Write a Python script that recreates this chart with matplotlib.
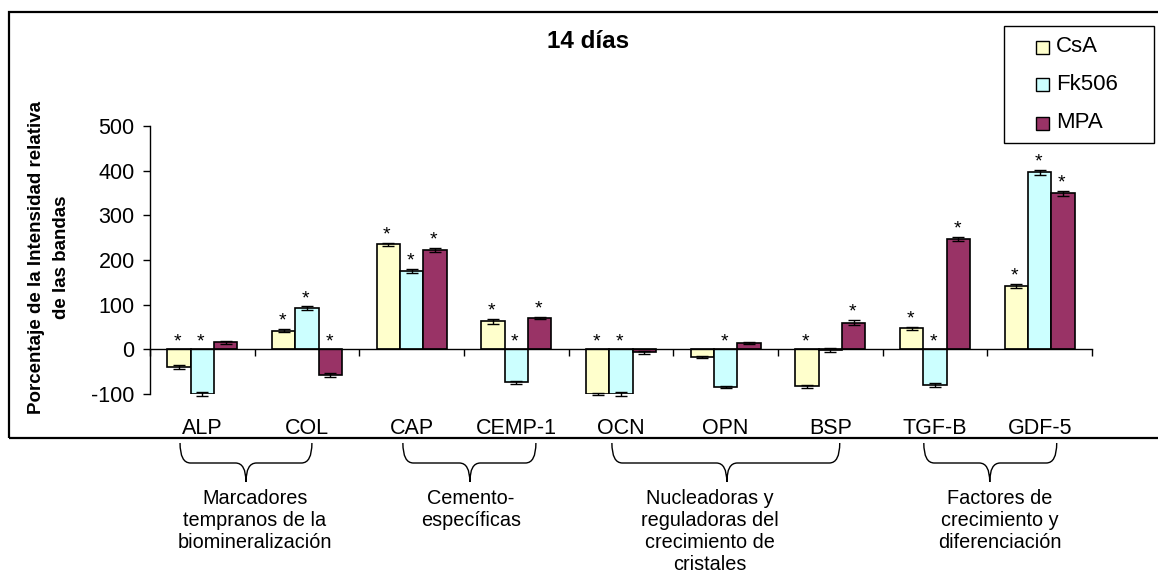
import numpy as np
import matplotlib
matplotlib.use("Agg")
import matplotlib.pyplot as plt
from matplotlib.patches import Rectangle, PathPatch
from matplotlib.path import Path
from matplotlib.transforms import blended_transform_factory

plt.rcParams['font.family'] = ['Liberation Sans', 'DejaVu Sans']

## genes on the x axis and the three treatments
genes = ['ALP', 'COL', 'CAP', 'CEMP-1', 'OCN', 'OPN', 'BSP', 'TGF-B', 'GDF-5']
series = ['CsA', 'Fk506', 'MPA']

## % relative band intensity (14 days)
csa = [-39, 42, 235, 63, -100, -17, -83, 47, 142]
fk506 = [-100, 92, 175, -74, -100, -84, -2, -80, 396]
mpa = [16, -58, 222, 70, -7, 14, 60, 247, 349]

## error bars
csa_err = [4, 4, 3, 6, 2, 2, 4, 3, 5]
fk506_err = [4, 4, 5, 4, 4, 3, 4, 5, 5]
mpa_err = [3, 5, 5, 3, 3, 2, 6, 5, 5]

## significance marks (1 = asterisk)
csa_sig = [1, 1, 1, 1, 1, 0, 1, 1, 1]
fk506_sig = [1, 1, 1, 1, 1, 1, 0, 1, 1]
mpa_sig = [0, 1, 1, 1, 0, 0, 1, 1, 1]

## brace groups under the genes
group_labels = ['Marcadores\ntempranos de la\nbiomineralización',
                'Cemento-\nespecíficas',
                'Nucleadoras y\nreguladoras del\ncrecimiento de\ncristales',
                'Factores de\ncrecimiento y\ndiferenciación']
brace_spans = [(-0.213, 0.417, 1.047), (1.916, 2.556, 3.187),
               (3.913, 5.011, 6.090), (6.893, 7.523, 8.163)]
label_x = [0.503, 2.566, 4.849, 7.618]

colors = ['#FFFFCC', '#CCFFFF', '#993366']
W, H = 1158, 572

fig = plt.figure(figsize=(W / 100, H / 100), dpi=100)
ax = fig.add_axes([150 / W, 178 / H, 942 / W, 268 / H])
ax.set_xlim(-0.5, 8.5)
ax.set_ylim(-100, 500)

x = np.arange(len(genes))
bw = 0.2235
data = [(csa, csa_err, csa_sig), (fk506, fk506_err, fk506_sig), (mpa, mpa_err, mpa_sig)]
for k, (vals, errs, sig) in enumerate(data):
    xs = x + (k - 1) * bw
    ax.bar(xs, vals, bw, color=colors[k], edgecolor='black', linewidth=1.2, zorder=2)
    ax.errorbar(xs, vals, yerr=errs, fmt='none', ecolor='black', elinewidth=1.0,
                capsize=4, capthick=1.0, zorder=3, clip_on=False)
    for xi, v, e, s in zip(xs, vals, errs, sig):
        if not s:
            continue
        y0 = v + e if v > 0 else 0
        ax.annotate('*', (xi, y0), xytext=(-1, -0.5), textcoords='offset points',
                    ha='center', va='bottom', fontsize=14)

## axes styling
for side in ['top', 'right']:
    ax.spines[side].set_visible(False)
ax.spines['bottom'].set_position(('data', 0))
ax.spines['left'].set_linewidth(1.0)
ax.spines['bottom'].set_linewidth(1.0)
ax.set_yticks(np.arange(-100, 501, 100))
ax.set_yticklabels([str(v) for v in range(-100, 501, 100)])
ax.tick_params(axis='y', direction='out', length=5, width=1.0, labelsize=15.5, pad=6)
ax.set_xticks(np.arange(-0.5, 9, 1))
ax.set_xticklabels([])
ax.tick_params(axis='x', direction='out', length=5, width=1.0)

trans = blended_transform_factory(ax.transData, fig.transFigure)
for xi, g in zip(x, genes):
    ax.text(xi, 1 - 428 / H, g, transform=trans, ha='center', va='center', fontsize=15.5)

## braces and group labels under the chart
y_top, y_mid, y_tip = 1 - 443 / H, 1 - 463 / H, 1 - 482 / H
r = 0.1
for (left, tip, right), tx, label in zip(brace_spans, label_x, group_labels):
    verts = [(left, y_top), (left, y_mid), (left + r, y_mid),
             (tip - r, y_mid), (tip, y_mid), (tip, y_tip),
             (tip, y_tip), (tip, y_mid), (tip + r, y_mid),
             (right - r, y_mid), (right, y_mid), (right, y_top)]
    codes = [Path.MOVETO, Path.CURVE3, Path.CURVE3,
             Path.LINETO, Path.CURVE3, Path.CURVE3,
             Path.MOVETO, Path.CURVE3, Path.CURVE3,
             Path.LINETO, Path.CURVE3, Path.CURVE3]
    fig.add_artist(PathPatch(Path(verts, codes), transform=trans, fill=False,
                             lw=1.0, edgecolor='black', clip_on=False))
    fig.text(tx, 1 - 489 / H, label, transform=trans, ha='center', va='top',
             fontsize=14.3, linespacing=1.2)

fig.text(588 / W, 1 - 42 / H, '14 días', ha='center', va='center',
         fontsize=17.5, fontweight='bold')
fig.text(49 / W, 1 - 257 / H, 'Porcentaje de la Intensidad relativa\nde las bandas',
         rotation=90, ha='center', va='center', fontsize=13.5, fontweight='bold',
         linespacing=1.65)

## chart border
fig.add_artist(Rectangle((9 / W, 1 - 438 / H), 1.0, (438 - 12) / H,
                         transform=fig.transFigure, fill=False, lw=1.6,
                         edgecolor='black', clip_on=False))

## legend box
fig.add_artist(Rectangle((1004 / W, 1 - 143 / H), 150 / W, 117 / H,
                         transform=fig.transFigure, fill=True, facecolor='white',
                         lw=1.0, edgecolor='black'))
for name, c, yc in zip(series, colors, [47, 84, 123]):
    fig.add_artist(Rectangle((1036 / W, 1 - (yc + 6.5) / H), 13 / W, 13 / H,
                             transform=fig.transFigure, facecolor=c,
                             lw=1.0, edgecolor='black'))
    fig.text(1056 / W, 1 - yc / H, name, ha='left', va='center', fontsize=16)

fig.savefig('out.png', dpi=100)
